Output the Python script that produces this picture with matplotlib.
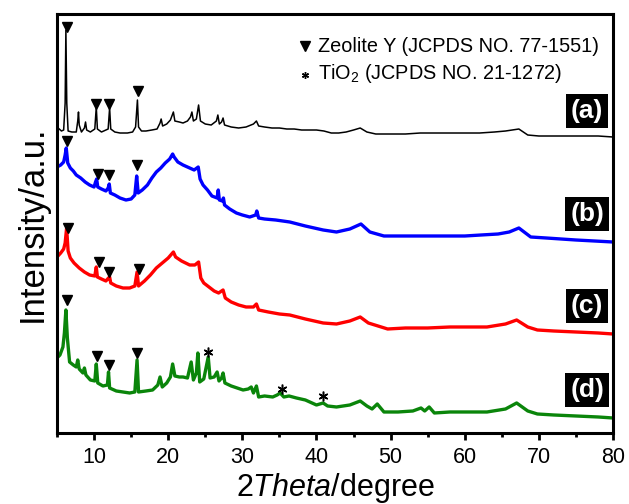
import matplotlib
matplotlib.use('Agg')
import matplotlib.pyplot as plt
import numpy as np

plt.rcParams['font.family'] = ['Liberation Sans', 'DejaVu Sans']
plt.rcParams['mathtext.fontset'] = 'custom'
plt.rcParams['mathtext.rm'] = 'Liberation Sans'
plt.rcParams['mathtext.it'] = 'Liberation Sans:italic'

# 2theta / intensity (a.u., offset traces)
a_x = [5.0, 5.6, 5.9, 6.1, 6.2, 6.32, 6.5, 7.0, 7.6, 7.8, 7.9, 8.0, 8.3, 8.7, 8.85, 9.0, 9.5, 10.1, 10.3, 10.45,
       11.0, 11.9, 12.1, 12.25, 12.8, 13.5, 14.5, 15.2, 15.6, 15.85, 16.0, 16.4, 17.0, 17.8, 18.5, 18.9, 19.05,
       19.25, 19.8, 20.3, 20.7, 20.9, 21.5, 22.0, 22.6, 23.0, 23.2, 23.4, 23.8, 24.1, 24.35, 25.0, 25.8, 26.5,
       26.7, 26.9, 27.2, 27.4, 27.6, 28.5, 29.5, 30.5, 31.5, 31.9, 32.2, 33.0, 34.0, 35.0, 36.0, 37.0, 38.0,
       39.0, 40.0, 41.0, 42.0, 43.0, 44.0, 45.0, 45.9, 46.8, 48.0, 50.0, 52.0, 54.0, 56.0, 58.0, 60.0, 62.0,
       64.0, 65.5, 67.3, 68.5, 70.0, 72.0, 75.0, 78.0, 80.0]
a_y = [306, 302, 303, 330, 403, 330, 302, 301, 301, 312, 321, 308, 301, 305, 311, 303, 301, 304, 326, 304,
       301, 304, 325, 304, 301, 300, 300, 301, 306, 333, 306, 302, 302, 303, 304, 310, 314,
       307, 309, 313, 321, 312, 311, 310, 312, 316, 321, 312, 314, 328, 312, 309, 308, 312,
       318, 309, 311, 315, 308, 306, 305, 306, 309, 312, 307, 306, 305, 305, 304, 304, 303,
       303, 303, 302, 300, 300, 301, 303, 305, 301, 299, 299, 299, 300, 300, 300, 300, 300,
       301, 302, 304, 298, 297, 297, 297, 297, 296]

b_x = [5.0, 5.5, 5.9, 6.1, 6.25, 6.45, 6.8, 7.2, 7.6, 8.2, 8.8, 9.4, 10.0, 10.2, 10.35, 10.5, 11.0, 11.6, 11.9,
       12.05, 12.2, 12.8, 13.5, 14.3, 15.0, 15.5, 15.75, 15.95, 16.5, 17.2, 17.8, 18.4, 19.0, 19.6, 20.2, 20.6,
       20.8, 21.3, 22.0, 22.9, 23.5, 24.05, 24.3, 24.7, 25.3, 25.9, 26.6, 26.75, 26.9, 27.3, 27.45, 27.6, 28.3,
       29.2, 30.0, 31.0, 31.8, 31.95, 32.2, 33.0, 34.5, 36.4, 38.5, 40.9, 42.7, 44.5, 46.0, 47.2, 49.1, 52.0,
       55.0, 58.0, 60.0, 62.2, 64.5, 66.0, 67.3, 68.9, 71.0, 73.0, 75.0, 77.5, 80.0]
b_y = [266, 268, 271, 278, 285, 270, 265, 262, 258, 255, 251, 248, 246, 251, 254, 246, 244, 242, 245,
       249, 240, 238, 235, 233, 234, 238, 257, 240, 243, 248, 255, 261, 265, 270, 274, 279,
       276, 271, 268, 265, 263, 266, 254, 248, 243, 237, 235, 243, 233, 232, 235, 228, 224,
       220, 218, 216, 218, 222, 215, 214, 213, 211, 207, 203, 201, 204, 209, 201, 197, 197,
       197, 197, 197, 198, 199, 201, 205, 196, 195, 194, 193, 192, 191]

c_x = [5.0, 5.5, 5.9, 6.1, 6.3, 6.5, 6.8, 7.3, 8.0, 8.7, 9.4, 10.1, 10.3, 10.45, 11.0, 11.6, 11.95, 12.1, 12.25,
       13.0, 13.9, 14.8, 15.5, 15.8, 16.0, 16.8, 17.6, 18.4, 19.2, 20.0, 20.7, 21.0, 21.8, 22.9, 23.6, 24.1,
       24.4, 24.8, 25.5, 26.2, 26.8, 27.4, 27.7, 28.5, 29.5, 30.5, 31.5, 31.9, 32.2, 33.5, 35.0, 36.4, 38.5,
       40.9, 42.7, 44.5, 45.9, 47.0, 49.6, 52.0, 55.0, 58.0, 60.8, 63.0, 65.5, 67.0, 68.5, 69.8, 72.0, 75.0,
       78.0, 80.0]
c_y = [176, 180, 184, 190, 205, 182, 175, 170, 165, 161, 158, 157, 166, 156, 154, 152, 155, 156, 150,
       147, 145, 145, 147, 161, 147, 152, 158, 165, 170, 175, 181, 176, 172, 168, 168, 171,
       155, 150, 146, 142, 140, 143, 135, 131, 128, 126, 126, 129, 123, 121, 119, 118, 114,
       110, 109, 112, 116, 110, 104, 105, 105, 106, 106, 106, 109, 113, 106, 103, 102, 101,
       100, 99]

d_x = [5.0, 5.4, 5.8, 6.0, 6.2, 6.4, 6.7, 7.2, 7.6, 7.8, 8.0, 8.5, 8.7, 8.9, 9.5, 10.1, 10.3, 10.5, 11.2, 11.8,
       11.95, 12.1, 13.0, 13.9, 14.8, 15.5, 15.8, 16.0, 17.0, 17.9, 18.6, 18.9, 19.2, 19.8, 20.3, 20.6, 20.9,
       21.5, 22.0, 22.6, 23.1, 23.4, 23.8, 24.0, 24.25, 24.8, 25.4, 25.65, 26.2, 26.6, 26.85, 27.2, 27.4,
       27.65, 28.5, 29.3, 30.1, 30.8, 31.2, 31.5, 31.9, 32.2, 33.0, 34.1, 34.7, 35.1, 35.6, 36.3, 37.3, 38.5,
       40.0, 40.9, 41.5, 42.7, 44.5, 45.9, 46.8, 47.5, 48.2, 49.1, 51.0, 53.0, 54.1, 54.6, 55.2, 55.9, 58.0,
       60.8, 63.0, 65.5, 67.0, 68.5, 69.8, 72.0, 75.0, 78.0, 80.0]
d_y = [75, 78, 86, 100, 123, 95, 71, 68, 66, 73, 64, 60, 65, 58, 53, 52, 69, 50, 47, 48,
       61, 45, 42, 41, 40, 41, 73, 41, 42, 43, 48, 56, 46, 50, 56, 69, 57,
       56, 56, 55, 71, 53, 60, 80, 51, 54, 76, 55, 56, 61, 52, 55, 60,
       50, 47, 45, 43, 44, 46, 40, 47, 36, 37, 36, 38, 40, 36, 37, 35, 33,
       28, 30, 27, 26, 28, 32, 27, 24, 29, 21, 21, 22, 25, 22, 26, 20, 21,
       21, 21, 24, 30, 22, 19, 18, 17, 16, 15]

# zeolite Y reflections (triangles) and TiO2 reflections (asterisks)
tri_x = [6.4, 10.3, 12.05, 15.95, 6.4, 10.5, 12.05, 15.8, 6.55, 10.65, 12.05, 16.0, 6.35, 10.35, 12.05, 15.8]
tri_y = [406, 329, 329, 342, 292, 259, 258, 268, 205, 171, 161, 164, 133, 77, 68, 80]
ast_x = [25.4, 35.4, 40.9]
ast_y = [81, 44, 37]

labels = ['(a)', '(b)', '(c)', '(d)']
label_y = [322, 219, 127, 43]

fig = plt.figure(figsize=(6.29, 5.04), dpi=100)
ax = fig.add_axes([0.0906, 0.1409, 0.8840, 0.8313])

ax.plot(a_x, a_y, color='black', lw=1.1)
ax.plot(b_x, b_y, color='#0000ff', lw=2.4)
ax.plot(c_x, c_y, color='#ff0000', lw=2.4)
ax.plot(d_x, d_y, color='#0a850a', lw=2.4)

ax.plot(tri_x, tri_y, 'v', color='black', ms=7.5, ls='none')
ax.plot(ast_x, ast_y, marker=(6, 2, 0), color='black', ms=7, mew=1.1, ls='none')

for lab, yy in zip(labels, label_y):
    ax.text(76.5, yy, lab, color='white', fontsize=19, fontweight='bold', ha='center', va='center',
            bbox=dict(facecolor='black', edgecolor='none', boxstyle='square,pad=0.18'))

# legend drawn by hand
ax.plot([38.5], [387], 'v', color='black', ms=7, ls='none')
ax.text(40.2, 387, 'Zeolite Y (JCPDS NO. 77-1551)', fontsize=14.3, va='center', ha='left')
ax.plot([38.5], [358], marker=(6, 2, 0), color='black', ms=5, mew=1.0, ls='none')
ax.text(40.2, 360, 'TiO$_2$ (JCPDS NO. 21-1272)', fontsize=14.3, va='center', ha='left')

ax.set_xlim(5, 80)
ax.set_ylim(0, 419)
ax.set_xticks(np.arange(10, 81, 10))
ax.set_xticks(np.arange(5, 81, 5), minor=True)
ax.set_yticks([])
ax.tick_params(axis='x', which='major', direction='out', length=5, width=2, labelsize=15.5, pad=5)
ax.tick_params(axis='x', which='minor', direction='out', length=3, width=2)
for s in ax.spines.values():
    s.set_linewidth(2.2)

ax.set_xlabel('2$\\mathit{Theta}$/degree', fontsize=22, labelpad=2)
ax.set_ylabel('Intensity/a.u.', fontsize=25, labelpad=6)

fig.savefig('out.png', dpi=100)
